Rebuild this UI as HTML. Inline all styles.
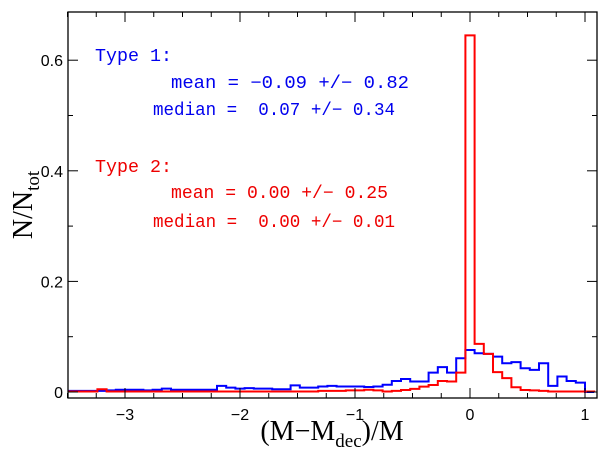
<!DOCTYPE html>
<html><head><meta charset="utf-8"><style>
body{margin:0;background:#fff;}
svg{display:block;}
text{font-family:"Liberation Sans",sans-serif;white-space:pre;}
.leg{font-family:"Liberation Mono",monospace;}
</style></head><body>
<svg id="chart" width="600" height="450" xmlns="http://www.w3.org/2000/svg">
<defs><clipPath id="clip"><rect x="68" y="12" width="529" height="386"/></clipPath></defs>
<g id="marks" clip-path="url(#clip)"></g>
<rect x="68" y="12" width="529" height="386" fill="none" stroke="#000" stroke-width="1.3"/>
<g id="axes"></g>
<g fill="#0000ee" font-size="18">
<text class="leg" x="95" y="61" textLength="77" lengthAdjust="spacingAndGlyphs">Type 1:</text>
<text class="leg" x="171" y="88" textLength="238" lengthAdjust="spacingAndGlyphs">mean = −0.09 +/− 0.82</text>
<text class="leg" x="153" y="115" textLength="242" lengthAdjust="spacingAndGlyphs">median =  0.07 +/− 0.34</text>
</g>
<g fill="#ee0000" font-size="18">
<text class="leg" x="95" y="172" textLength="77" lengthAdjust="spacingAndGlyphs">Type 2:</text>
<text class="leg" x="171" y="198" textLength="217" lengthAdjust="spacingAndGlyphs">mean = 0.00 +/− 0.25</text>
<text class="leg" x="153" y="227" textLength="242" lengthAdjust="spacingAndGlyphs">median =  0.00 +/− 0.01</text>
</g>
<text x="332" y="440" text-anchor="middle" font-size="28" style="font-family:'Liberation Serif',serif">(M−M<tspan font-size="19" dy="7">dec</tspan><tspan dy="-7">)/M</tspan></text>
<text transform="translate(32,205) rotate(-90)" text-anchor="middle" font-size="28" style="font-family:'Liberation Serif',serif">N/N<tspan font-size="19" dy="7">tot</tspan></text>
</svg>
<script>
const binStart = -3.56;
const binWidth = 0.08;
const blueValues = [0.002,0.002,0.002,0.002,0.002,0.003,0.004,0.004,0.004,0.003,0.004,0.006,0.004,0.004,0.004,0.004,0.004,0.011,0.008,0.006,0.007,0.006,0.006,0.005,0.005,0.012,0.008,0.008,0.010,0.011,0.010,0.010,0.010,0.009,0.010,0.013,0.020,0.0235,0.019,0.019,0.035,0.045,0.035,0.061,0.076,0.070,0.069,0.064,0.052,0.054,0.043,0.040,0.052,0.011,0.028,0.020,0.017,0.0];
const redValues = [0.001,0.001,0.001,0.001,0.005,0.001,0.001,0.001,0.001,0.001,0.001,0.001,0.001,0.001,0.001,0.001,0.001,0.001,0.001,0.001,0.001,0.001,0.001,0.001,0.001,0.001,0.001,0.001,0.002,0.002,0.002,0.003,0.003,0.004,0.003,0.001,0.002,0.0036,0.0056,0.0097,0.0127,0.020,0.019,0.035,0.645,0.087,0.069,0.036,0.025,0.0085,0.0036,0.003,0.002,0.001,0.001,0.001,0.001,0.001];
const xTicks = [-3,-2,-1,0,1];
const yTicks = [0,0.2,0.4,0.6];
const yTickLabels = ["0","0.2","0.4","0.6"];

const X = v => 470 + v*115;
const Y = v => 392 - v*553;
const NS = "http://www.w3.org/2000/svg";
const marks = document.getElementById('marks');
const axes = document.getElementById('axes');

function stepPath(vals){
  let d = "M" + X(binStart) + "," + Y(0);
  vals.forEach((v,i)=>{
    const x0 = X(binStart + i*binWidth), x1 = X(binStart + (i+1)*binWidth);
    d += " L" + x0 + "," + Y(v) + " L" + x1 + "," + Y(v);
  });
  d += " L" + X(binStart + vals.length*binWidth) + "," + Y(0);
  return d;
}
const pb = document.createElementNS(NS,'path');
pb.setAttribute('d', stepPath(blueValues));
pb.setAttribute('fill','none'); pb.setAttribute('stroke','#0000ff'); pb.setAttribute('stroke-width','2');


marks.appendChild(pb);
const pr = document.createElementNS(NS,'path');
pr.setAttribute('d', stepPath(redValues));
pr.setAttribute('fill','none'); pr.setAttribute('stroke','#ff0000'); pr.setAttribute('stroke-width','2');


marks.appendChild(pr);

function line(x1,y1,x2,y2){
  const l = document.createElementNS(NS,'line');
  l.setAttribute('x1',x1);l.setAttribute('y1',y1);l.setAttribute('x2',x2);l.setAttribute('y2',y2);
  l.setAttribute('stroke','#000');l.setAttribute('stroke-width','1');
  
  
  axes.appendChild(l);
}
function label(x,y,t,anchor){
  const e = document.createElementNS(NS,'text');
  e.setAttribute('x',x);e.setAttribute('y',y);e.setAttribute('text-anchor',anchor);
  e.setAttribute('font-size','16');
  e.textContent = t;
  
  
  axes.appendChild(e);
}
for(let v=-3.5; v<=1.1001; v+=0.25){
  const major = Math.abs(v-Math.round(v))<1e-6;
  const len = major?10:5;
  line(X(v),398,X(v),398-len); line(X(v),12,X(v),12+len);
}
xTicks.forEach(v=>label(X(v),420,(v<0?"−":"")+Math.abs(v),"middle"));
for(let k=0;k<=6;k++){
  const v=k*0.1, len=(k%2===0)?10:5;
  line(68,Y(v),68+len,Y(v)); line(597,Y(v),597-len,Y(v));
}
yTicks.forEach((v,i)=>label(63,Y(v)+6,yTickLabels[i],"end"));
</script>
</body></html>
